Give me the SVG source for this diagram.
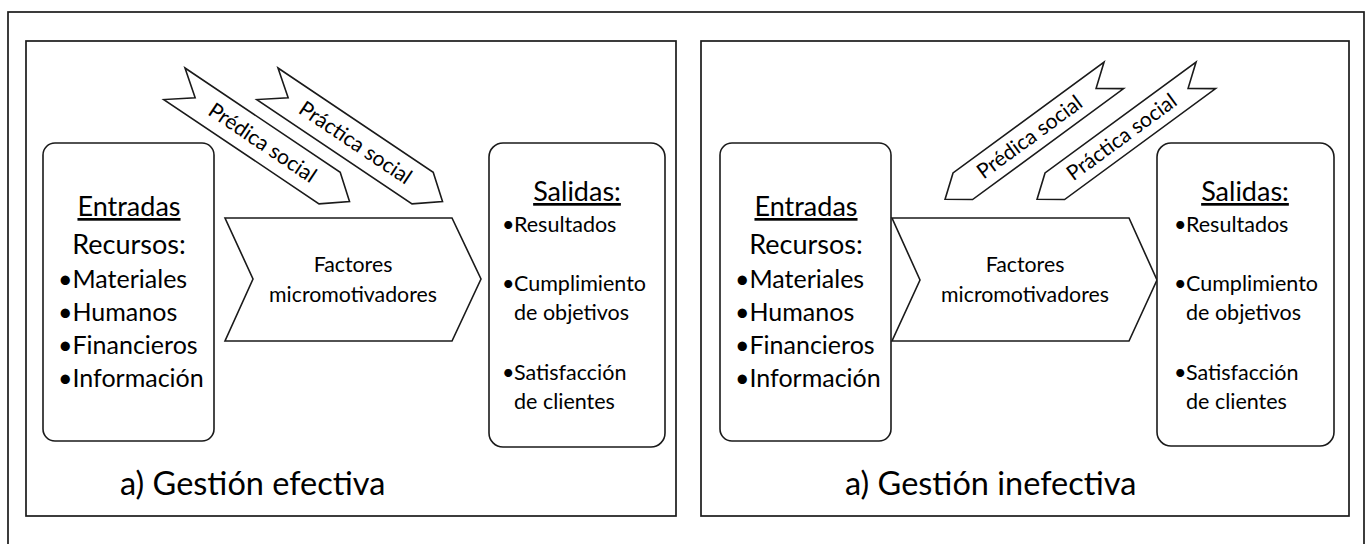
<svg xmlns="http://www.w3.org/2000/svg" width="1367" height="544" viewBox="0 0 1367 544">
<style>
.frame{fill:none;stroke:#1a1a1a;stroke-width:1.7}
.box{fill:#fff;stroke:#1a1a1a;stroke-width:1.6}
.t{font-family:Lato,"Open Sans","Liberation Sans",sans-serif;fill:#000}
.h{font-size:27px;text-anchor:middle;text-decoration:underline}
.r{font-size:27px;text-anchor:middle}
.e{font-size:25px}
.s{font-size:21.5px}
.f{font-size:21.3px;text-anchor:middle}
.a{font-size:21px;text-anchor:middle}
.cap{font-size:32.5px}
</style>
<rect fill="#fff" x="0" y="0" width="1367" height="544"/>
<rect class="frame" x="8" y="12" width="1356" height="560"/>

<g id="panel-efectiva">
  <rect class="frame" x="26" y="41" width="650" height="475"/>
  <text class="t cap" x="120" y="495">a) Gestión efectiva</text>
</g>
<g id="entradas-a">
  <rect class="box" x="43" y="143" width="171" height="298" rx="12"/>
  <text class="t h" x="129" y="216">Entradas</text>
  <text class="t r" x="129" y="254">Recursos:</text>
  <text class="t e" x="58" y="288">•Materiales</text>
  <text class="t e" x="58" y="321">•Humanos</text>
  <text class="t e" x="58" y="354">•Financieros</text>
  <text class="t e" x="58" y="387">•Información</text>
</g>
<g id="factores-a">
  <polygon class="box" points="225,218 452,218 481,279 452,341 225,341 253,279"/>
  <text class="t f" x="353" y="272">Factores</text>
  <text class="t f" x="353" y="302">micromotivadores</text>
</g>
<g id="salidas-a">
  <rect class="box" x="489" y="143" width="176" height="304" rx="14"/>
  <text class="t h" x="577" y="201">Salidas:</text>
  <text class="t s" x="502" y="232">•</text>
  <text class="t s" x="514" y="232">Resultados</text>
  <text class="t s" x="502" y="291">•</text>
  <text class="t s" x="514" y="291">Cumplimiento</text>
  <text class="t s" x="514" y="320">de objetivos</text>
  <text class="t s" x="502" y="380">•</text>
  <text class="t s" x="514" y="380">Satisfacción</text>
  <text class="t s" x="514" y="409">de clientes</text>
</g>
<g id="predica-a" transform="translate(185,68) rotate(33.9)">
  <polygon class="box" points="0,0 187,0 211,19 187,38 0,38 25,19"/>
  <text class="t a" x="106" y="26">Prédica social</text>
</g>
<g id="practica-a" transform="translate(278,68) rotate(33.9)">
  <polygon class="box" points="0,0 187,0 211,19 187,38 0,38 25,19"/>
  <text class="t a" x="106" y="26">Práctica social</text>
</g>

<g id="panel-inefectiva">
  <rect class="frame" x="701" y="41" width="648" height="475"/>
  <text class="t cap" x="845" y="495">a) Gestión inefectiva</text>
</g>
<g id="entradas-b">
  <rect class="box" x="720" y="143" width="171" height="298" rx="12"/>
  <text class="t h" x="806" y="216">Entradas</text>
  <text class="t r" x="806" y="254">Recursos:</text>
  <text class="t e" x="735" y="288">•Materiales</text>
  <text class="t e" x="735" y="321">•Humanos</text>
  <text class="t e" x="735" y="354">•Financieros</text>
  <text class="t e" x="735" y="387">•Información</text>
</g>
<g id="factores-b">
  <polygon class="box" points="892,218 1129,218 1157,280 1129,341 892,341 920,280"/>
  <text class="t f" x="1025" y="272">Factores</text>
  <text class="t f" x="1025" y="302">micromotivadores</text>
</g>
<g id="salidas-b">
  <rect class="box" x="1157" y="143" width="177" height="303" rx="14"/>
  <text class="t h" x="1245" y="201">Salidas:</text>
  <text class="t s" x="1174" y="232">•</text>
  <text class="t s" x="1186" y="232">Resultados</text>
  <text class="t s" x="1174" y="291">•</text>
  <text class="t s" x="1186" y="291">Cumplimiento</text>
  <text class="t s" x="1186" y="320">de objetivos</text>
  <text class="t s" x="1174" y="380">•</text>
  <text class="t s" x="1186" y="380">Satisfacción</text>
  <text class="t s" x="1186" y="409">de clientes</text>
</g>
<g id="predica-b" transform="translate(935.3,186) rotate(-36.3)">
  <polygon class="box" points="0,16.5 22,0 209.4,0 187.4,16.5 209.4,33 22,33"/>
  <text class="t a" x="105" y="23.5">Prédica social</text>
</g>
<g id="practica-b" transform="translate(1027.3,186) rotate(-36.3)">
  <polygon class="box" points="0,16.5 22,0 209.4,0 187.4,16.5 209.4,33 22,33"/>
  <text class="t a" x="105" y="23.5">Práctica social</text>
</g>
<g id="connectors"/>
</svg>
